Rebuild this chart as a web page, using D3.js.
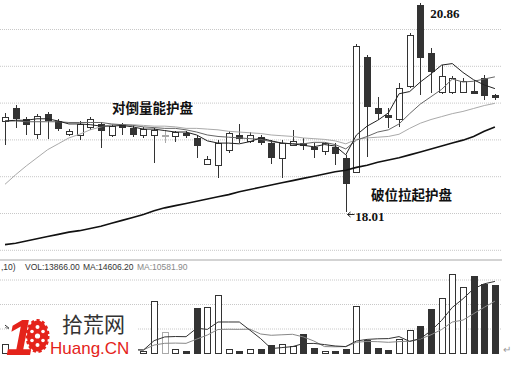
<!DOCTYPE html>
<html>
<head>
<meta charset="utf-8">
<script src="https://cdnjs.cloudflare.com/ajax/libs/d3/7.8.5/d3.min.js"></script>
<style>
    html, body { margin: 0; padding: 0; background: #fff; }
    svg { display: block; }
</style>
</head>
<body>
<div id="chart"></div>
<script>
/* ****** Data ****** */
var opens = [19.25, 19.43, 19.28, 19.07, 19.35, 19.25, 19.07, 19.06, 19.17, 19.21,
             19.06, 19.21, 19.15, 19.06, 19.06, 19.06, 19.05, 19.09, 19.02, 18.67,
             18.65, 18.86, 19.06, 18.98, 19.03, 18.95, 18.75, 18.92, 18.95, 18.90,
             18.84, 18.90, 18.75, 18.56, 20.12, 19.43, 19.33, 19.28, 19.73, 20.83,
             20.17, 19.64, 19.64, 19.64, 19.66, 19.83, 19.60];
var highs = [19.36, 19.47, 19.30, 19.35, 19.37, 19.28, 19.14, 19.25, 19.30, 19.24,
             19.21, 19.22, 19.18, 19.17, 19.15, 19.13, 19.11, 19.11, 19.06, 18.77,
             18.99, 19.11, 19.21, 19.10, 19.06, 18.99, 18.99, 19.13, 19.02, 18.95,
             18.96, 18.95, 18.79, 20.30, 20.15, 19.58, 19.43, 19.77, 20.45, 20.86,
             20.24, 20.01, 19.86, 19.83, 19.81, 19.88, 19.62];
var lows = [18.92, 19.15, 19.06, 19.01, 19.01, 19.11, 19.05, 18.99, 19.13, 18.88,
            19.03, 19.06, 19.03, 19.02, 18.68, 18.95, 18.96, 19.02, 18.75, 18.65,
            18.48, 18.82, 18.95, 18.95, 18.92, 18.67, 18.48, 18.91, 18.86, 18.75,
            18.79, 18.65, 18.01, 18.54, 18.76, 19.26, 19.15, 19.17, 19.70, 19.60,
            19.63, 19.62, 19.62, 19.63, 19.62, 19.53, 19.53];
var closes = [19.30, 19.29, 19.21, 19.32, 19.26, 19.15, 19.11, 19.21, 19.28, 19.13,
              19.18, 19.17, 19.07, 19.14, 19.13, 19.06, 19.10, 19.06, 18.92, 18.73,
              18.95, 19.09, 19.02, 19.06, 18.96, 18.76, 18.95, 18.98, 18.92, 18.87,
              18.95, 18.82, 18.41, 20.27, 19.45, 19.36, 19.30, 19.70, 20.42, 20.12,
              19.93, 19.86, 19.83, 19.79, 19.63, 19.60, 19.58];

// price moving averages
var ma5 = [19.25, 19.26, 19.26, 19.28, 19.28, 19.25, 19.21, 19.21, 19.20, 19.18,
           19.18, 19.19, 19.17, 19.14, 19.14, 19.12, 19.10, 19.10, 19.06, 18.98,
           18.95, 18.95, 18.94, 18.97, 19.02, 18.98, 18.95, 18.94, 18.92, 18.90,
           18.93, 18.91, 18.79, 19.06, 19.18, 19.26, 19.36, 19.62, 19.65, 19.78,
           19.89, 20.01, 20.03, 19.91, 19.81, 19.74, 19.69];
var ma10 = [19.25, 19.25, 19.24, 19.24, 19.24, 19.24, 19.23, 19.23, 19.23, 19.23,
            19.21, 19.20, 19.19, 19.17, 19.16, 19.15, 19.15, 19.13, 19.10, 19.06,
            19.04, 19.03, 19.02, 19.01, 19.00, 18.97, 18.95, 18.94, 18.94, 18.96,
            18.96, 18.93, 18.87, 18.99, 19.04, 19.10, 19.13, 19.21, 19.35, 19.48,
            19.58, 19.68, 19.82, 19.78, 19.79, 19.82, 19.85];
var ma20 = [18.39, 18.52, 18.64, 18.75, 18.86, 18.94, 19.02, 19.07, 19.13, 19.17,
            19.20, 19.20, 19.20, 19.19, 19.18, 19.18, 19.17, 19.15, 19.15, 19.14,
            19.13, 19.11, 19.10, 19.09, 19.08, 19.06, 19.05, 19.04, 19.02, 19.01,
            19.00, 18.98, 18.94, 19.00, 19.02, 19.03, 19.04, 19.07, 19.15, 19.22,
            19.27, 19.31, 19.35, 19.38, 19.42, 19.46, 19.49];
var ma60 = [17.57, 17.59, 17.62, 17.65, 17.68, 17.71, 17.74, 17.76, 17.79, 17.82,
            17.86, 17.90, 17.94, 17.98, 18.03, 18.07, 18.10, 18.13, 18.16, 18.19,
            18.22, 18.25, 18.29, 18.32, 18.35, 18.38, 18.41, 18.44, 18.47, 18.50,
            18.53, 18.56, 18.58, 18.62, 18.65, 18.69, 18.72, 18.75, 18.79, 18.83,
            18.87, 18.91, 18.95, 18.99, 19.04, 19.11, 19.17];

// volume and its moving averages
var volumes = [1840, 1200, 800, 1500, 900, 700, 400, 900, 600, 1000,
               500, 400, 600, 500, 10610, 4290, 820, 410, 9180, 9390,
               11840, 820, 410, 820, 820, 1630, 1840, 1430, 3880, 1020,
               410, 410, 820, 9590, 2650, 1020, 610, 2860, 4690, 5510,
               8980, 11220, 16120, 13470, 15710, 14080, 13866];
var volMa5 = [5700, 4000, 2600, 1700, 1248, 1020, 860, 880, 700, 720,
              680, 680, 620, 600, 2522, 3280, 3364, 3326, 5062, 4818,
              6328, 6328, 6328, 4656, 2942, 900, 1104, 1308, 1920, 1960,
              1716, 1430, 1308, 2450, 2776, 2898, 2938, 3346, 2366, 2938,
              4530, 6652, 9304, 11060, 13100, 14120, 14606];
var volMa10 = [5200, 4600, 3900, 3200, 2600, 2100, 1700, 1400, 1150, 984,
               850, 770, 750, 650, 1621, 1980, 2022, 1973, 2831, 3670,
               4804, 4846, 4827, 4859, 3880, 3614, 3716, 3818, 3288, 2451,
               1308, 1267, 1308, 2185, 2368, 2307, 2184, 2327, 2408, 2857,
               3714, 4795, 6325, 6713, 8019, 9325, 10582];

var priceTicks = [17.5, 18, 18.5, 19, 19.5, 20, 20.5];
var volTicks = [5000, 10000, 15000];
var volHeader = [",10)", "VOL:13866.00", "MA:14606.20", "MA:10581.90"];
var notes = ["对倒量能护盘", "破位拉起护盘"];

/* ****** Graph size ****** */
var width = 523;
var height = 366;
var plotRight = 502;
var dark = "#333";
var red = "#e4231b";

var svg = d3.select("#chart")
    .append("svg")
    .attr("width", width)
    .attr("height", height)
    .style("font-family", "'Liberation Sans', Arial, sans-serif");

/* ****** Scales ****** */
var x = d3.scaleLinear().domain([0, closes.length - 1]).range([5, 494.9]);
var y = d3.scaleLinear().domain([18, 20.5]).range([213, 29]);
var yVol = d3.scaleLinear().domain([0, 15000]).range([353, 279.5]);

function px(i) { return Math.round(x(i)) + 0.5; }
function py(v) { return Math.round(y(v)) + 0.5; }

/* ****** Grid lines ****** */
svg.append("g")
    .call(d3.axisRight(y).tickValues(priceTicks).tickSize(plotRight).tickFormat(""));
svg.append("g")
    .call(d3.axisRight(yVol).tickValues(volTicks).tickSize(plotRight).tickFormat(""));
svg.selectAll(".domain").remove();
svg.selectAll(".tick line")
    .attr("stroke", "#c8c8c8")
    .attr("stroke-dasharray", "1,1");

// panel separator
svg.append("line")
    .attr("x1", 0).attr("x2", plotRight)
    .attr("y1", 260).attr("y2", 260)
    .attr("stroke", "#c4c4c4")
    .attr("stroke-width", 1.5);

/* ****** Candles ****** */
var idx = d3.range(closes.length);
function candleColor(i) {
    if (opens[i] === closes[i]) return "#aaa";
    return dark;
}
function candleFill(i) {
    if (opens[i] === closes[i]) return "#fff";
    return closes[i] > opens[i] ? "#fff" : dark;
}

var candles = svg.append("g").attr("class", "candles");
candles.selectAll("line.wick")
    .data(idx)
    .enter()
    .append("line")
    .attr("class", "wick")
    .attr("x1", px).attr("x2", px)
    .attr("y1", function(i) { return Math.round(y(highs[i])); })
    .attr("y2", function(i) { return Math.round(y(lows[i])); })
    .attr("stroke", candleColor);

candles.selectAll("rect.body")
    .data(idx)
    .enter()
    .append("rect")
    .attr("class", "body")
    .attr("x", function(i) { return px(i) - 3; })
    .attr("width", 6)
    .attr("y", function(i) { return py(Math.max(opens[i], closes[i])); })
    .attr("height", function(i) {
        return Math.max(1, Math.round(y(Math.min(opens[i], closes[i]))) - Math.round(y(Math.max(opens[i], closes[i]))));
    })
    .attr("fill", candleFill)
    .attr("stroke", candleColor);

/* ****** Price MA lines ****** */
var line = d3.line()
    .x(function(d, i) { return x(i); })
    .y(function(d) { return y(d); });

svg.append("path").datum(ma20).attr("d", line)
    .attr("fill", "none").attr("stroke", "#aaa").attr("stroke-width", 1);
svg.append("path").datum(ma10).attr("d", line)
    .attr("fill", "none").attr("stroke", "#666").attr("stroke-width", 1);
svg.append("path").datum(ma5).attr("d", line)
    .attr("fill", "none").attr("stroke", "#222").attr("stroke-width", 1);
svg.append("path").datum(ma60).attr("d", line)
    .attr("fill", "none").attr("stroke", "#111").attr("stroke-width", 1.6);

/* ****** Volume ****** */
var vol = svg.append("g").attr("class", "volume");
vol.selectAll("rect")
    .data(idx)
    .enter()
    .append("rect")
    .attr("x", function(i) { return px(i) - 3; })
    .attr("width", 6)
    .attr("y", function(i) { return Math.round(yVol(volumes[i])) + 0.5; })
    .attr("height", function(i) { return Math.max(1, 353 - Math.round(yVol(volumes[i]))); })
    .attr("fill", candleFill)
    .attr("stroke", candleColor);

var vline = d3.line()
    .x(function(d, i) { return x(i); })
    .y(function(d) { return yVol(d); });

svg.append("path").datum(volMa10).attr("d", vline)
    .attr("fill", "none").attr("stroke", "#888").attr("stroke-width", 1);
svg.append("path").datum(volMa5).attr("d", vline)
    .attr("fill", "none").attr("stroke", "#333").attr("stroke-width", 1);

// volume header
var headX = [1, 25, 83, 137];
var headCol = ["#333", "#333", "#333", "#888"];
svg.selectAll("text.head")
    .data(volHeader)
    .enter()
    .append("text")
    .attr("class", "head")
    .attr("x", function(d, i) { return headX[i]; })
    .attr("y", 270)
    .attr("font-size", "8.5px")
    .attr("fill", function(d, i) { return headCol[i]; })
    .text(function(d) { return d; });

/* ****** Annotations ****** */
var cjk = "'Noto Sans CJK SC', sans-serif";
svg.append("text")
    .attr("x", 112).attr("y", 113)
    .attr("font-family", cjk).attr("font-weight", 700).attr("font-size", "13.5px")
    .attr("fill", "#111")
    .text(notes[0]);
svg.append("text")
    .attr("x", 371).attr("y", 200)
    .attr("font-family", cjk).attr("font-weight", 700).attr("font-size", "13.5px")
    .attr("fill", "#111")
    .text(notes[1]);

var hiIdx = highs.indexOf(d3.max(highs));
var loIdx = lows.indexOf(d3.min(lows));
svg.append("text")
    .attr("x", x(hiIdx) + 10).attr("y", 18)
    .attr("font-family", "'Liberation Serif', serif").attr("font-weight", 700).attr("font-size", "13px")
    .attr("fill", "#111")
    .text(d3.format(".2f")(highs[hiIdx]));

// arrow to the low
var ly = Math.round(y(lows[loIdx])) + 2.5;
svg.append("path")
    .attr("d", "M" + (px(loIdx) + 8) + "," + ly + "H" + (px(loIdx) + 1) +
               "M" + (px(loIdx) + 4) + "," + (ly - 2.5) + "L" + (px(loIdx) + 1) + "," + ly +
               "L" + (px(loIdx) + 4) + "," + (ly + 2.5))
    .attr("fill", "none").attr("stroke", "#222");
svg.append("text")
    .attr("x", x(loIdx) + 9.5).attr("y", 221)
    .attr("font-family", "'Liberation Serif', serif").attr("font-weight", 700).attr("font-size", "13px")
    .attr("fill", "#111")
    .text(d3.format(".2f")(lows[loIdx]));

/* ****** Watermark logo ****** */
var logo = svg.append("g").attr("class", "logo");
logo.append("rect")
    .attr("x", 9).attr("y", 311).attr("width", 129).attr("height", 46)
    .attr("fill", "#fff");
logo.append("text")
    .attr("x", 6).attr("y", 355)
    .attr("font-size", "50px").attr("font-weight", 700).attr("font-style", "italic")
    .attr("fill", red)
    .text("1");
logo.append("ellipse")
    .attr("cx", 37.5).attr("cy", 336).attr("rx", 10.5).attr("ry", 15.5)
    .attr("fill", red)
    .attr("stroke", red).attr("stroke-width", 3).attr("stroke-dasharray", "3,2.5");
var holes = [[0, 0, 2.6], [0, -9, 2], [0, 9, 2], [-5.5, -4.5, 1.8], [5.5, -4.5, 1.8], [-5.5, 4.5, 1.8], [5.5, 4.5, 1.8]];
logo.selectAll("circle")
    .data(holes)
    .enter()
    .append("circle")
    .attr("cx", function(d) { return 37.5 + d[0]; })
    .attr("cy", function(d) { return 336 + d[1]; })
    .attr("r", function(d) { return d[2]; })
    .attr("fill", "#fff");
logo.append("text")
    .attr("x", 62).attr("y", 332)
    .attr("font-family", cjk).attr("font-size", "21px")
    .attr("fill", "#333")
    .text("拾荒网");
logo.append("text")
    .attr("x", 50).attr("y", 354)
    .attr("font-size", "17px")
    .attr("fill", red)
    .text("Huang.CN");

svg.append("text")
    .attr("x", 503).attr("y", 353)
    .attr("font-size", "10px")
    .attr("fill", "#999")
    .text("↵");
</script>
</body>
</html>
